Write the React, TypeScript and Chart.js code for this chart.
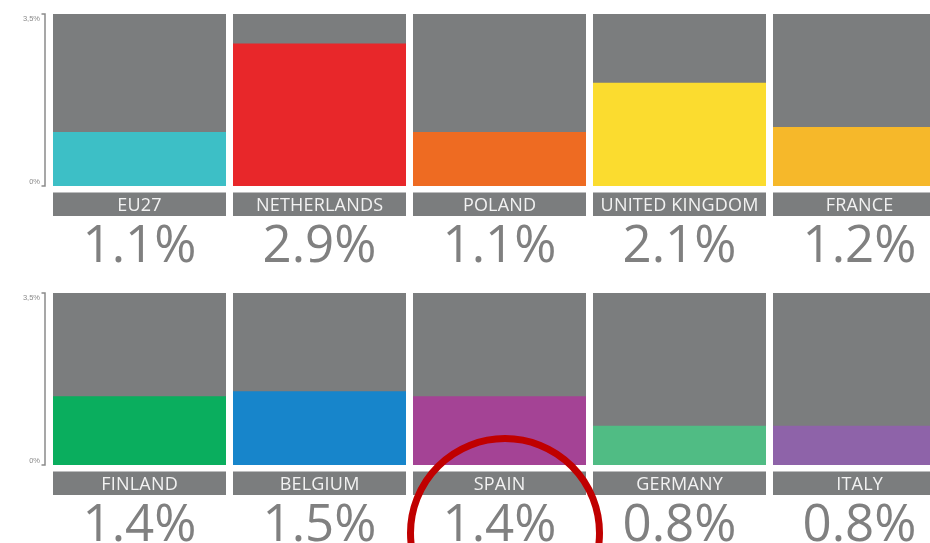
import React, { useEffect, useRef } from 'react';
import { Chart, registerables } from 'chart.js';

Chart.register(...registerables);

// ---- data ----
const row1Countries = ['EU27', 'NETHERLANDS', 'POLAND', 'UNITED KINGDOM', 'FRANCE'];
const row1Values = [1.1, 2.9, 1.1, 2.1, 1.2];
const row1Colors = ['#3dbfc6', '#e8272a', '#ee6b22', '#fbdc2f', '#f6b82a'];

const row2Countries = ['FINLAND', 'BELGIUM', 'SPAIN', 'GERMANY', 'ITALY'];
const row2Values = [1.4, 1.5, 1.4, 0.8, 0.8];
const row2Colors = ['#0aae5e', '#1785cb', '#a44395', '#50bc84', '#8e63a9'];

const axisMax = 3.5;
const yTickValues = [3.5, 0];
const yTickLabels = ['3,5%', '0%'];
const highlighted = 'SPAIN';

// ---- styles ----
const PANEL_GREY = '#7b7d7e';
const CANVAS_W = 960;

function drawSpaced(ctx: any, text: string, x: number, y: number, spacing: number) {
  ctx.letterSpacing = spacing + 'px';
  ctx.fillText(text, x + spacing / 2, y);
  ctx.letterSpacing = '0px';
}

function makeDecor(values: number[], countries: string[]) {
  return {
    id: 'decor',
    afterDatasetsDraw(chart: any) {
      const ctx = chart.ctx;
      const y = chart.scales.y;
      const meta = chart.getDatasetMeta(1);
      const area = chart.chartArea;
      ctx.save();
      // y bracket
      const yTop = y.getPixelForValue(axisMax);
      const yBot = y.getPixelForValue(0);
      const bx = area.left - 4.5;
      ctx.strokeStyle = '#8a8a8a';
      ctx.lineWidth = 1.5;
      ctx.beginPath();
      ctx.moveTo(bx - 3.5, yTop);
      ctx.lineTo(bx, yTop);
      ctx.lineTo(bx, yBot);
      ctx.lineTo(bx - 3.5, yBot);
      ctx.stroke();
      ctx.fillStyle = '#8a8a8a';
      ctx.font = '7.5px "Liberation Sans", Arial, sans-serif';
      ctx.textAlign = 'right';
      yTickValues.forEach((v, i) => {
        const py = y.getPixelForValue(v);
        ctx.textBaseline = v === axisMax ? 'top' : 'bottom';
        ctx.fillText(yTickLabels[i], bx - 5, v === axisMax ? py + 1 : py - 0.5);
      });

      meta.data.forEach((bar: any, i: number) => {
        const w = bar.width;
        const left = bar.x - w / 2;
        const boxTop = area.bottom + 6.5;
        const boxH = 23.5;
        ctx.fillStyle = PANEL_GREY;
        ctx.fillRect(left, boxTop, w, boxH);
        ctx.fillStyle = '#f2f2f2';
        ctx.font = '400 18px "Open Sans", "Liberation Sans", sans-serif';
        ctx.textAlign = 'center';
        ctx.textBaseline = 'alphabetic';
        drawSpaced(ctx, countries[i], bar.x, area.bottom + 24.7, 0.2);
        ctx.fillStyle = '#808080';
        ctx.font = '400 51px "Open Sans", "Liberation Sans", sans-serif';
        drawSpaced(ctx, values[i].toFixed(1) + '%', bar.x, area.bottom + 76, 0);
      });

      const hi = countries.indexOf(highlighted);
      if (hi >= 0) {
        const bar: any = meta.data[hi];
        ctx.strokeStyle = '#c00000';
        ctx.lineWidth = 7;
        ctx.beginPath();
        ctx.arc(bar.x + 5.5, area.bottom + 68, 94.5, 0, Math.PI * 2);
        ctx.stroke();
      }
      ctx.restore();
    },
  };
}

function Row({ countries, values, colors, top, height }: any) {
  const ref = useRef<HTMLCanvasElement>(null);
  useEffect(() => {
    if (!ref.current) return;
    const chart = new Chart(ref.current, {
      type: 'bar',
      data: {
        labels: countries,
        datasets: [
          {
            data: values,
            backgroundColor: colors,
            order: 0,
            barPercentage: 1,
            categoryPercentage: 173 / 180,
          },
          {
            data: countries.map(() => axisMax),
            backgroundColor: PANEL_GREY,
            order: 1,
            barPercentage: 1,
            categoryPercentage: 173 / 180,
          },
        ],
      },
      options: {
        animation: false,
        responsive: false,
        maintainAspectRatio: false,
        layout: { padding: { left: 49.5, right: 10.5, top: 14, bottom: height - 186 } },
        scales: {
          x: { display: false, stacked: true },
          y: { display: false, min: 0, max: axisMax },
        },
        plugins: { legend: { display: false }, tooltip: { enabled: false } },
      },
      plugins: [makeDecor(values, countries)],
    } as any);
    return () => chart.destroy();
  }, []);
  return (
    <canvas
      ref={ref}
      width={CANVAS_W}
      height={height}
      style={{ position: 'absolute', left: 0, top, width: CANVAS_W, height }}
    />
  );
}

export default function App() {
  return (
    <div
      style={{
        position: 'fixed',
        left: 0,
        top: 0,
        width: 930,
        height: 543,
        overflow: 'hidden',
        background: '#ffffff',
      }}
    >
      <Row countries={row1Countries} values={row1Values} colors={row1Colors} top={0} height={279} />
      <Row countries={row2Countries} values={row2Values} colors={row2Colors} top={279} height={264} />
    </div>
  );
}
